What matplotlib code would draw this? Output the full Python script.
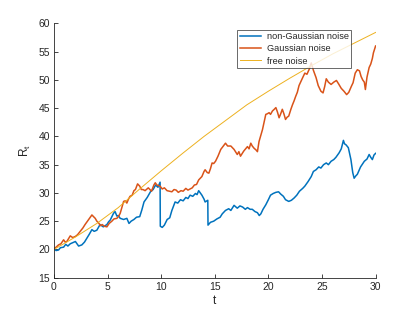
import matplotlib
matplotlib.use("Agg")
import matplotlib.pyplot as plt

plt.rcParams["font.family"] = ["Liberation Sans", "DejaVu Sans"]

# ── data ─────────────────────────────────────────────────────────────────────
t_ng = [0, 0.2, 0.43, 0.6, 0.9, 1.1, 1.3, 1.52, 1.75, 2.0,
        2.15, 2.3, 2.6, 2.85, 3.08, 3.3, 3.54, 3.75, 4.0, 4.15,
        4.3, 4.6, 4.94, 5.1, 5.25, 5.4, 5.56, 5.7, 5.87, 6.0,
        6.18, 6.5, 6.8, 7.0, 7.2, 7.46, 7.7, 8.0, 8.2, 8.4,
        8.7, 9.0, 9.25, 9.48, 9.7, 9.9, 9.92, 10.1, 10.3, 10.56,
        10.8, 11.0, 11.3, 11.55, 11.8, 12.05, 12.3, 12.5, 12.7, 12.95,
        13.2, 13.35, 13.5, 13.65, 13.8, 14.0, 14.1, 14.35, 14.37, 14.6,
        14.9, 15.2, 15.5, 15.7, 16.0, 16.3, 16.5, 16.8, 17.1, 17.35,
        17.6, 17.85, 18.05, 18.3, 18.5, 18.75, 18.98, 19.15, 19.3, 19.5,
        19.76, 20.0, 20.2, 20.45, 20.7, 20.95, 21.15, 21.4, 21.6, 21.9,
        22.15, 22.4, 22.65, 22.9, 23.2, 23.4, 23.7, 24.0, 24.2, 24.45,
        24.7, 24.9, 25.15, 25.4, 25.6, 25.85, 26.1, 26.3, 26.6, 26.8,
        27.0, 27.1, 27.25, 27.46, 27.7, 27.87, 28.0, 28.15, 28.3, 28.6,
        28.95, 29.2, 29.4, 29.55, 29.7, 29.85, 30.0]
r_ng = [20.1, 19.8, 19.9, 20.3, 20.4, 20.9, 20.6, 21.0, 21.2, 21.4,
        21.0, 20.6, 20.8, 21.3, 22.0, 22.7, 23.5, 23.2, 23.4, 23.9,
        24.4, 24.0, 24.4, 24.9, 25.2, 25.8, 26.4, 26.7, 25.9, 26.0,
        25.5, 25.3, 25.5, 24.6, 25.0, 25.3, 25.7, 25.8, 27.0, 28.4,
        29.2, 30.2, 30.6, 31.4, 31.0, 31.9, 24.1, 23.9, 24.3, 25.3,
        25.6, 26.9, 28.4, 28.2, 28.8, 28.6, 29.2, 29.0, 29.6, 29.4,
        29.9, 29.7, 30.4, 30.0, 29.6, 28.9, 28.4, 28.7, 24.3, 24.8,
        25.0, 25.4, 25.7, 26.3, 26.9, 27.2, 26.9, 27.8, 27.3, 27.7,
        27.5, 27.1, 27.4, 27.1, 27.1, 26.7, 26.5, 26.0, 26.3, 27.1,
        27.9, 28.8, 29.6, 29.9, 30.1, 30.2, 29.8, 29.4, 28.8, 28.5,
        28.7, 29.1, 29.6, 30.3, 30.8, 31.2, 32.0, 32.9, 33.8, 34.1,
        34.6, 34.4, 35.0, 35.3, 35.0, 35.6, 35.9, 36.3, 37.1, 37.8,
        39.3, 38.7, 38.5, 38.0, 35.9, 33.6, 32.6, 33.0, 33.3, 34.6,
        35.6, 36.0, 36.8, 36.3, 35.9, 36.7, 37.0]

t_g = [0, 0.2, 0.43, 0.65, 0.9, 1.05, 1.2, 1.52, 1.75, 2.0,
       2.2, 2.45, 2.7, 2.9, 3.2, 3.4, 3.54, 3.7, 3.85, 4.0,
       4.16, 4.35, 4.5, 4.7, 4.94, 5.15, 5.4, 5.6, 5.87, 6.05,
       6.18, 6.35, 6.5, 6.65, 6.8, 6.95, 7.1, 7.3, 7.46, 7.6,
       7.8, 8.0, 8.15, 8.3, 8.5, 8.8, 9.1, 9.32, 9.45, 9.6,
       9.9, 10.1, 10.3, 10.55, 10.8, 11.0, 11.2, 11.4, 11.6, 11.85,
       12.05, 12.3, 12.5, 12.7, 12.9, 13.1, 13.3, 13.5, 13.65, 13.8,
       14.0, 14.1, 14.3, 14.45, 14.6, 14.75, 14.9, 15.07, 15.3, 15.56,
       15.8, 16.0, 16.2, 16.5, 16.8, 17.1, 17.25, 17.4, 17.7, 18.05,
       18.2, 18.36, 18.5, 18.67, 18.85, 18.98, 19.13, 19.3, 19.45, 19.6,
       19.76, 19.9, 20.07, 20.2, 20.38, 20.55, 20.7, 20.85, 21.0, 21.15,
       21.3, 21.45, 21.6, 21.75, 21.9, 22.1, 22.25, 22.4, 22.55, 22.7,
       22.86, 23.05, 23.2, 23.4, 23.6, 23.86, 24.0, 24.2, 24.45, 24.65,
       24.9, 25.1, 25.25, 25.4, 25.6, 25.85, 26.1, 26.35, 26.55, 26.8,
       27.05, 27.3, 27.5, 27.75, 27.9, 28.1, 28.3, 28.5, 28.65, 28.8,
       28.95, 29.05, 29.2, 29.4, 29.55, 29.7, 29.8, 29.9, 30.0]
r_g = [20.1, 20.4, 20.8, 21.0, 21.7, 21.3, 21.4, 22.4, 22.1, 22.3,
       22.6, 23.2, 23.8, 24.4, 25.2, 25.7, 26.1, 25.8, 25.5, 25.0,
       24.7, 24.2, 24.4, 24.1, 24.0, 24.6, 25.0, 25.4, 25.5, 25.9,
       26.4, 27.5, 28.5, 28.6, 28.2, 28.9, 29.4, 29.6, 30.4, 30.6,
       31.6, 31.2, 30.6, 30.6, 30.4, 30.9, 30.3, 31.4, 31.8, 31.4,
       31.2, 30.7, 30.9, 30.4, 30.3, 30.2, 30.6, 30.5, 30.1, 30.4,
       30.3, 30.8, 30.5, 30.7, 30.9, 31.4, 31.5, 32.3, 32.6, 32.9,
       33.8, 34.1, 33.6, 33.5, 34.3, 35.3, 35.2, 35.6, 36.5, 37.7,
       38.3, 38.8, 38.3, 38.3, 37.7, 36.8, 37.3, 36.5, 37.4, 38.2,
       37.8, 38.8, 38.3, 37.9, 37.6, 37.3, 39.1, 40.2, 41.2, 42.5,
       43.9, 44.0, 44.2, 43.9, 44.5, 44.8, 45.1, 44.3, 43.3, 44.0,
       44.8, 44.0, 43.0, 43.4, 43.6, 44.8, 45.6, 46.3, 47.1, 47.8,
       49.0, 49.8, 50.4, 51.2, 51.0, 52.1, 53.0, 51.7, 50.4, 49.0,
       48.0, 47.7, 48.8, 50.2, 49.6, 49.2, 49.6, 49.9, 49.3, 48.5,
       48.0, 47.4, 47.8, 48.9, 49.5, 51.2, 51.8, 51.6, 50.6, 50.0,
       49.6, 48.3, 50.5, 52.2, 52.8, 53.8, 54.8, 55.4, 56.0]

t_free = [0, 2, 4, 6, 8, 10, 12, 14, 16, 18, 20, 22, 24, 26, 28, 30]
r_free = [20.0, 22.2, 24.6, 27.4, 30.7, 33.9, 37.0, 40.0, 42.8, 45.6,
          48.0, 50.3, 52.5, 54.6, 56.5, 58.4]

labels = ["non-Gaussian noise", "Gaussian noise", "free noise"]
colors = ["#0072BD", "#D95319", "#EDB120"]

# ── figure ───────────────────────────────────────────────────────────────────
fig = plt.figure(figsize=(4.15, 3.12), dpi=100)
ax = fig.add_axes([0.13, 0.11, 0.775, 0.815])

ax.plot(t_ng, r_ng, color=colors[0], linewidth=1.1, label=labels[0])
ax.plot(t_g, r_g, color=colors[1], linewidth=1.1, label=labels[1])
ax.plot(t_free, r_free, color=colors[2], linewidth=0.7, label=labels[2])

ax.set_xlim(0, 30)
ax.set_ylim(15, 60)
ax.set_xticks(range(0, 31, 5))
ax.set_yticks(range(15, 61, 5))

axc = "#262626"
for side in ("top", "right"):
    ax.spines[side].set_visible(False)
for side in ("left", "bottom"):
    ax.spines[side].set_color(axc)
    ax.spines[side].set_linewidth(0.6)
ax.tick_params(direction="in", length=3, width=0.6, colors=axc,
               labelsize=7.5, pad=3)

ax.set_xlabel("t", fontsize=8.5, color=axc, labelpad=2)
ax.set_ylabel("R$_\\mathregular{t}$", fontsize=8.5, color=axc, labelpad=4)

leg = ax.legend(loc="upper right", bbox_to_anchor=(0.925, 0.976),
                fontsize=6.6, frameon=True, fancybox=False,
                handlelength=2.3, handletextpad=0.6, borderpad=0.3,
                labelspacing=0.35, borderaxespad=0)
leg.get_frame().set_edgecolor(axc)
leg.get_frame().set_linewidth(0.6)
for txt in leg.get_texts():
    txt.set_color(axc)

fig.savefig("out.png", dpi=100)
